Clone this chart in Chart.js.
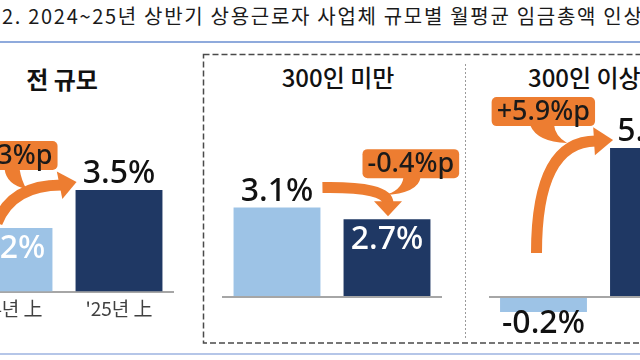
<!DOCTYPE html>
<html>
<head>
<meta charset="utf-8">
<script src="https://cdn.jsdelivr.net/npm/chart.js@4.4.1/dist/chart.umd.min.js"></script>
<style>
  html, body { margin: 0; padding: 0; background: #fff; }
  #wrap { position: relative; width: 640px; height: 360px; overflow: hidden;
          font-family: "Noto Sans CJK KR", "Noto Sans", sans-serif; }
  .t { position: absolute; white-space: nowrap; color: #111; line-height: 1; }
  canvas { position: absolute; top: 0; }
  svg { position: absolute; left: 0; top: 0; }
</style>
</head>
<body>
<div id="wrap">
  <div class="t" id="mainTitle" style="left:2px; top:6px; font-size:20px; letter-spacing:1.7px; color:#1a1a1a;"></div>
  <svg width="640" height="360">
    <line x1="0" y1="42" x2="640" y2="42" stroke="#8FAADC" stroke-width="2"/>
    <line x1="0" y1="354" x2="640" y2="354" stroke="#9DB3E0" stroke-width="1.5"/>
    <rect x="203.5" y="54.5" width="600" height="288.5" fill="none" stroke="#4a4a4a" stroke-width="1.5" stroke-dasharray="6 3"/>
    <line x1="465.5" y1="64" x2="465.5" y2="338" stroke="#9a9a9a" stroke-width="1" stroke-dasharray="2 2"/>
  </svg>
  <div class="t" id="p0" style="left:62px; top:79px; transform:translate(-50%,-50%); font-size:24px; font-weight:700;"></div>
  <div class="t" id="p1" style="left:338px; top:77px; transform:translate(-50%,-50%); font-size:24px; font-weight:500;"></div>
  <div class="t" id="p2" style="left:528px; top:77px; transform:translate(0,-50%); font-size:24px; font-weight:500;"></div>
  <canvas id="c0" width="250" height="360" style="left:-60px"></canvas>
  <canvas id="c1" width="270" height="360" style="left:200px"></canvas>
  <canvas id="c2" width="250" height="360" style="left:470px"></canvas>
</div>
<script>
// data
const title = '2. 2024~25년 상반기 상용근로자 사업체 규모별 월평균 임금총액 인상률';
const panelNames = ['전 규모', '300인 미만', '300인 이상'];
const years = ["'24년 上", "'25년 上"];
const allSizes = [2.2, 3.5];
const under300 = [3.1, 2.7];
const over300 = [-0.2, 5.7];

const LIGHT = '#9DC3E6';
const NAVY = '#1F3864';
const ORANGE = '#ED7D31';
const NUM_FONT = '500 32px "Noto Sans", sans-serif';
const BOX_FONT = '500 27px "Noto Sans", sans-serif';

document.getElementById('mainTitle').textContent = title;
panelNames.forEach((n, i) => document.getElementById('p' + i).textContent = n);

function diffText(v) {
  const d = v[1] - v[0];
  return (d >= 0 ? '+' : '-') + Math.abs(d).toFixed(1) + '%p';
}

function roundRect(ctx, x, y, w, h, r) {
  ctx.beginPath();
  ctx.moveTo(x + r, y);
  ctx.arcTo(x + w, y, x + w, y + h, r);
  ctx.arcTo(x + w, y + h, x, y + h, r);
  ctx.arcTo(x, y + h, x, y, r);
  ctx.arcTo(x, y, x + w, y, r);
  ctx.closePath();
}

function drawArrow(ctx, a) {
  ctx.save();
  ctx.strokeStyle = ORANGE;
  ctx.fillStyle = ORANGE;
  ctx.lineWidth = 11;
  ctx.beginPath();
  ctx.moveTo(a.S.x, a.S.y);
  ctx.quadraticCurveTo(a.C.x, a.C.y, a.B.x, a.B.y);
  ctx.stroke();
  const dx = a.T.x - a.B.x, dy = a.T.y - a.B.y, L = Math.hypot(dx, dy);
  const nx = -dy / L, ny = dx / L, hw = 14;
  const bx = a.B.x - dx / L * 2, by = a.B.y - dy / L * 2;
  ctx.beginPath();
  ctx.moveTo(a.T.x, a.T.y);
  ctx.lineTo(bx + nx * hw, by + ny * hw);
  ctx.lineTo(bx - nx * hw, by - ny * hw);
  ctx.closePath();
  ctx.fill();
  ctx.restore();
}

function drawBox(ctx, text, a) {
  ctx.save();
  ctx.font = BOX_FONT;
  const w = ctx.measureText(text).width + 10, h = 29;
  const left = a.box.left !== undefined ? a.box.left : a.box.right - w;
  const top = a.box.top, bottom = top + h;
  ctx.fillStyle = ORANGE;
  roundRect(ctx, left, top, w, h, 5);
  ctx.fill();
  // callout tail
  const t = a.tail(left, left + w, bottom);
  ctx.beginPath();
  ctx.moveTo(t[0].x, bottom - 1);
  ctx.quadraticCurveTo(t[1].x, t[1].y, t[2].x, t[2].y);
  ctx.quadraticCurveTo(t[3].x, t[3].y, t[4].x, bottom - 1);
  ctx.closePath();
  ctx.fill();
  ctx.fillStyle = '#1a1a1a';
  ctx.textAlign = 'center';
  ctx.textBaseline = 'middle';
  ctx.fillText(text, left + w / 2, top + h / 2 + 1);
  ctx.restore();
}

// decorations per panel, anchored on the bar elements
const layouts = [
  (b1, b2) => {
    const T = { x: b2.x - b2.width / 2 + 1, y: b2.y - 8 };
    return {
      S: { x: b1.x - 12, y: b1.y - 5 }, C: { x: b1.x + 3, y: T.y + 3 },
      B: { x: T.x - 15, y: T.y + 3 }, T,
      box: { right: T.x - 19, top: T.y - 41 },
      tail: (L, R, Bt) => [{ x: R - 53 }, { x: R - 51, y: Bt + 15 }, { x: R - 31, y: Bt + 19 }, { x: R - 36, y: Bt + 11 }, { x: R - 38 }]
    };
  },
  (b1, b2) => {
    const T = { x: b2.x + 1, y: b2.y - 3 };
    const S = { x: b1.x + b1.width / 2 + 2, y: b1.y - 20 };
    const B = { x: T.x, y: T.y - 13 };
    return {
      S, C: { x: B.x, y: S.y - 1 }, B, T,
      box: { left: T.x - 25.5, top: T.y - 67 },
      tail: (L, R, Bt) => [{ x: L + 41 }, { x: L + 39, y: Bt + 13 }, { x: L + 21, y: Bt + 17 }, { x: L + 56, y: Bt + 15 }, { x: L + 58 }]
    };
  },
  (b1, b2) => {
    const T = { x: b2.x - b2.width / 2 + 3, y: b2.y - 8 };
    const S = { x: b1.x - 7, y: b1.base - 45 };
    const B = { x: T.x - 17, y: T.y + 1 };
    return {
      S, C: { x: S.x, y: B.y }, B, T,
      box: { right: T.x - 18, top: T.y - 43 },
      tail: (L, R, Bt) => [{ x: R - 65 }, { x: R - 58, y: Bt + 16 }, { x: R - 28, y: Bt + 17 }, { x: R - 40, y: Bt + 10 }, { x: R - 41 }]
    };
  }
];

// where each value label sits: inside the bar (white) or outside
const labelModes = [['in', 'out'], ['out', 'in'], ['out', 'out']];

const decoPlugin = {
  id: 'deco',
  afterDatasetsDraw(chart, args, opts) {
    const ctx = chart.ctx;
    const meta = chart.getDatasetMeta(0);
    const values = chart.data.datasets[0].data;
    const [b1, b2] = meta.data;
    const a = layouts[opts.panel](b1, b2);
    drawArrow(ctx, a);
    drawBox(ctx, diffText(values), a);

    ctx.save();
    ctx.font = NUM_FONT;
    ctx.textAlign = 'center';
    ctx.textBaseline = 'middle';
    meta.data.forEach((bar, i) => {
      const v = values[i];
      const mode = labelModes[opts.panel][i];
      let y, color = '#111';
      if (mode === 'in') { y = bar.y + 21; color = '#fff'; }
      else if (v < 0) y = bar.y + 12;
      else y = bar.y - 16;
      ctx.fillStyle = color;
      ctx.fillText(v.toFixed(1) + '%', bar.x, y);
    });
    ctx.restore();
  }
};

function makeChart(id, panel, values, o) {
  return new Chart(document.getElementById(id), {
    type: 'bar',
    data: {
      labels: years,
      datasets: [{
        data: values,
        backgroundColor: [LIGHT, NAVY],
        barPercentage: 0.79,
        categoryPercentage: 1,
        minBarLength: o.minBar || 0
      }]
    },
    options: {
      responsive: false,
      animation: false,
      layout: { padding: o.padding },
      plugins: { legend: { display: false }, tooltip: { enabled: false }, deco: { panel } },
      scales: {
        x: {
          display: o.showX,
          grid: { display: false, drawTicks: false },
          border: { display: false },
          ticks: { color: '#404040', padding: 5, font: { family: '"Noto Sans CJK KR"', size: 19 } }
        },
        y: {
          min: o.min, max: o.max,
          ticks: { display: false, stepSize: 1 },
          border: { display: false },
          grid: {
            drawTicks: false,
            lineWidth: 2,
            color: c => (c.tick && c.tick.value === 0) ? '#A6A6A6' : 'rgba(0,0,0,0)'
          }
        }
      }
    },
    plugins: [decoPlugin]
  });
}

makeChart('c0', 0, allSizes, { showX: true, min: 0, max: 10, padding: { left: 14, right: 16, top: 0, bottom: 35 } });
makeChart('c1', 1, under300, { showX: false, min: 0, max: 10.3, padding: { left: 22, right: 28, top: 0, bottom: 63 } });
makeChart('c2', 2, over300, { showX: false, min: -1, max: 11.375, minBar: 15, padding: { left: 18.5, right: 11.5, top: 0, bottom: 37 } });
</script>
</body>
</html>
